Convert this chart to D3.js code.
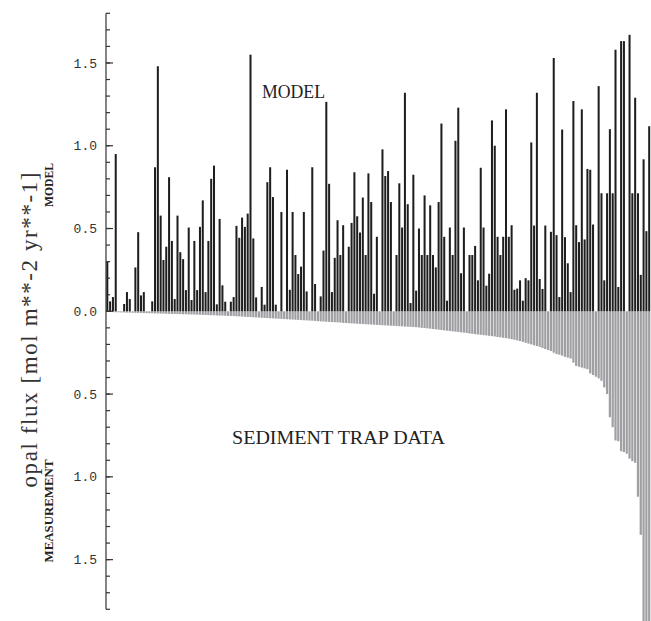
<!DOCTYPE html>
<html><head><meta charset="utf-8">
<script src="https://cdn.jsdelivr.net/npm/d3@7"></script>
<style>body{margin:0;background:#fff}svg{display:block}</style>
</head><body>
<svg id="c" width="651" height="621"></svg>
<script>
// Model opal flux per station (upward bars)
const modelValues = [
0.30,0.06,0.086,0.95,0,0,0.044,0.116,0.074,0,
0.265,0.478,0.096,0.116,0,0,0.06,0.87,1.48,0.578,
0.31,0.39,0.81,0.425,0.074,0.578,0.357,0.315,0.128,0.506,
0.068,0.425,0.128,0.51,0.67,0.116,0.425,0.80,0.88,0.042,
0.558,0.157,0.058,0,0.058,0.086,0.516,0.444,0.566,0.51,
0.59,1.55,0.44,0.084,0,0.147,0.04,0.78,0.87,0.69,
0.04,0,0.60,0,0.855,0.13,0.60,0.34,0.225,0.27,
0.60,0.12,0,0.87,0.165,0,0.09,0.367,1.265,0.77,
0.116,0.323,0.55,0.34,0.52,0,0.39,0.534,0.84,0.574,
0.476,0.687,0.34,0.833,0.66,0.106,0.45,0,0.978,0.817,
0.847,0.66,0,0.34,0.773,0.506,1.32,0.647,0.05,0.825,
0.125,0.50,0.34,0.70,0.34,0.64,0.34,0.265,0.66,1.134,
0.45,0.064,0.506,0.34,1.03,1.23,0.23,0.506,0,0.34,
0.34,0.395,0.187,0.867,0.506,0.155,0.227,1.153,1.0,0.45,
0.34,0.45,1.22,0.45,0.52,0.13,0.137,0.187,0.064,0.2,
0.187,1.02,0.518,1.32,0.195,0.135,0.518,0,0.48,1.53,
0.46,0.086,1.098,0.448,0.29,0.116,1.27,0.52,0.418,1.22,
0.434,0.86,0.855,0.524,0,1.36,0.713,0.187,0.713,1.10,
0.713,1.58,0.147,1.632,1.632,0,1.67,0.713,1.29,0.713,
0.22,0.918,0.484,1.118];
// Sediment trap measurements (downward bars, sorted)
const measValues = [
0.003,0.004,0.005,0.006,0.006,0.007,0.007,0.008,0.008,0.009,
0.009,0.010,0.010,0.011,0.011,0.012,0.012,0.013,0.013,0.014,
0.014,0.015,0.015,0.016,0.016,0.017,0.017,0.018,0.018,0.019,
0.019,0.020,0.020,0.021,0.022,0.022,0.023,0.024,0.024,0.025,
0.026,0.026,0.027,0.028,0.028,0.029,0.030,0.031,0.032,0.033,
0.034,0.035,0.036,0.037,0.038,0.039,0.040,0.041,0.042,0.043,
0.044,0.045,0.046,0.047,0.048,0.049,0.050,0.051,0.052,0.053,
0.054,0.055,0.056,0.057,0.058,0.060,0.061,0.062,0.063,0.064,
0.065,0.066,0.067,0.068,0.070,0.071,0.072,0.073,0.074,0.075,
0.076,0.077,0.078,0.079,0.080,0.081,0.082,0.083,0.084,0.085,
0.086,0.087,0.088,0.089,0.090,0.091,0.092,0.093,0.094,0.095,
0.096,0.098,0.100,0.101,0.103,0.105,0.107,0.109,0.111,0.113,
0.115,0.117,0.119,0.121,0.123,0.125,0.127,0.129,0.131,0.134,
0.136,0.138,0.140,0.142,0.144,0.146,0.148,0.150,0.152,0.155,
0.157,0.160,0.162,0.165,0.168,0.172,0.176,0.180,0.185,0.190,
0.195,0.200,0.205,0.210,0.215,0.222,0.228,0.234,0.240,0.250,
0.258,0.262,0.268,0.275,0.280,0.285,0.310,0.330,0.335,0.340,
0.345,0.350,0.375,0.385,0.395,0.405,0.420,0.460,0.500,0.640,
0.700,0.780,0.785,0.845,0.850,0.860,0.890,0.905,0.915,1.120,
1.350,2.0,2.0,2.0];
const stations = d3.range(modelValues.length);
const majorTicks = [1.5, 1.0, 0.5, 0.0, -0.5, -1.0, -1.5];
const tickLabels = ["1.5","1.0","0.5","0.0","0.5","1.0","1.5"];
const minorTicks = d3.range(-18, 19).map(d => d / 10);
const yTitle = "opal flux [mol m**-2 yr**-1]";

const svg = d3.select("#c");
const axisX = 106;
const x = d3.scaleBand().domain(stations).range([105.9, 650.6]);
const step = x.step();
const y = d3.scaleLinear().domain([-1.8, 1.8]).range([609.3, 13.3]);

// measurement bars (gray, downward)
const gw = step * 0.8, bw = step * 0.72;
svg.append("g").selectAll("rect").data(measValues).join("rect")
  .attr("x", (d,i) => x(i) + (step - gw) / 2)
  .attr("width", gw)
  .attr("y", y(0))
  .attr("height", d => y(-d) - y(0))
  .attr("fill", "#a0a0a4");

// model bars (black, upward)
svg.append("g").selectAll("rect").data(modelValues).join("rect")
  .attr("x", (d,i) => x(i) + (step - bw) / 2)
  .attr("width", bw)
  .attr("y", d => y(d))
  .attr("height", d => y(0) - y(d))
  .attr("fill", "#1e1e1e");

// axis
const ax = svg.append("g").attr("stroke", "#333").attr("stroke-width", 1.2);
ax.append("line").attr("x1", axisX).attr("x2", axisX).attr("y1", y(1.8)).attr("y2", y(-1.8));
ax.selectAll(".mn").data(minorTicks).join("line")
  .attr("x1", axisX).attr("x2", axisX + 4)
  .attr("y1", d => y(d)).attr("y2", d => y(d));
ax.selectAll(".mj").data(majorTicks).join("line")
  .attr("x1", axisX).attr("x2", axisX + 7)
  .attr("y1", d => y(d)).attr("y2", d => y(d));

svg.append("g").selectAll("text").data(majorTicks).join("text")
  .attr("x", 97).attr("y", d => y(d)).attr("dy", "0.35em")
  .attr("text-anchor", "end")
  .attr("font-family", "Liberation Mono, monospace").attr("font-size", 13)
  .attr("fill", "#333")
  .text((d,i) => tickLabels[i]);

// titles
svg.append("text").attr("transform", "translate(37,330) rotate(-90)")
  .attr("text-anchor", "middle")
  .attr("font-family", "Liberation Serif, serif").attr("font-size", 23)
  .attr("fill", "#333").attr("textLength", 315).text(yTitle);

svg.append("text").attr("transform", "translate(53,185) rotate(-90)")
  .attr("text-anchor", "middle")
  .attr("font-family", "Liberation Serif, serif").attr("font-weight", "bold").attr("font-size", 12)
  .attr("fill", "#222").attr("textLength", 44).attr("lengthAdjust", "spacingAndGlyphs").text("MODEL");
svg.append("text").attr("transform", "translate(53,511) rotate(-90)")
  .attr("text-anchor", "middle")
  .attr("font-family", "Liberation Serif, serif").attr("font-weight", "bold").attr("font-size", 12)
  .attr("fill", "#222").attr("textLength", 103).attr("lengthAdjust", "spacingAndGlyphs").text("MEASUREMENT");

svg.append("text").attr("x", 262).attr("y", 98)
  .attr("font-family", "Liberation Serif, serif").attr("font-size", 18)
  .attr("fill", "#222").attr("textLength", 63).attr("lengthAdjust", "spacingAndGlyphs").text("MODEL");
svg.append("text").attr("x", 232).attr("y", 444)
  .attr("font-family", "Liberation Serif, serif").attr("font-size", 18)
  .attr("fill", "#222").attr("textLength", 213).attr("lengthAdjust", "spacingAndGlyphs").text("SEDIMENT TRAP DATA");
</script>
</body></html>
